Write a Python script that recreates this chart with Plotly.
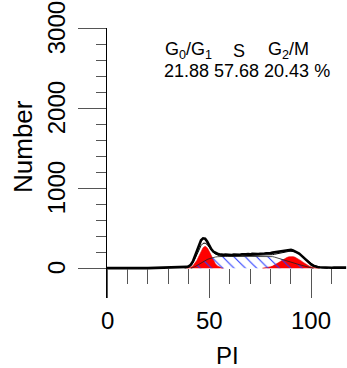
import plotly.graph_objects as go

# ---- data ----
pi_hist = list(range(0, 118))
counts = [3, 4, 3, 4, 3, 3, 4, 3, 4, 3,
          3, 4, 3, 3, 4, 3, 4, 3, 3, 4,
          3, 4, 3, 4, 3, 3, 4, 3, 4, 4,
          5, 5, 8, 10, 10, 12, 12, 14, 15, 18,
          25, 45, 85, 150, 225, 295, 350, 375, 370, 335,
          285, 240, 210, 192, 182, 176, 170, 168, 172, 168,
          170, 167, 171, 169, 174, 170, 176, 172, 175, 178,
          174, 180, 177, 182, 179, 183, 180, 185, 188, 186,
          192, 196, 200, 205, 208, 212, 216, 220, 226, 230,
          232, 224, 212, 200, 185, 162, 140, 112, 85, 64,
          45, 32, 22, 17, 14, 12, 10, 12, 9, 11,
          8, 10, 9, 12, 8, 10, 9, 9]

pi_fit = list(range(38, 109))
fit = [3, 6, 14, 32, 65, 115, 175, 235, 285, 312,
       315, 298, 265, 228, 198, 178, 165, 158, 154, 152,
       152, 152, 153, 153, 153, 154, 154, 154, 155, 155,
       155, 156, 156, 156, 157, 157, 158, 158, 159, 159,
       160, 162, 166, 171, 176, 182, 188, 194, 200, 205,
       209, 212, 213, 211, 205, 195, 180, 162, 142, 120,
       98, 77, 58, 42, 29, 19, 12, 7, 4, 2,
       0]

pi_g1 = list(range(39, 58))
g1 = [2, 6, 14, 30, 58, 100, 155, 212, 258, 275,
      258, 212, 155, 100, 58, 30, 14, 6, 2]

pi_s = list(range(41, 102))
s_phase = [0, 8, 20, 35, 52, 68, 84, 98, 110, 120,
           129, 136, 141, 145, 148, 150, 150, 150, 150, 150,
           150, 150, 150, 150, 150, 150, 150, 150, 150, 150,
           150, 150, 150, 150, 150, 150, 150, 150, 150, 150,
           146, 140, 133, 125, 117, 109, 101, 93, 86, 78,
           70, 62, 54, 46, 38, 30, 23, 16, 10, 5,
           0]

pi_g2 = list(range(76, 105))
g2 = [2, 4, 7, 12, 19, 28, 40, 55, 72, 89,
      106, 122, 135, 144, 148, 146, 139, 127, 111, 93,
      74, 56, 40, 27, 17, 10, 5, 2, 0]

phase_names = ["G<sub>0</sub>/G<sub>1</sub>", "S", "G<sub>2</sub>/M"]
phase_pct = ["21.88", "57.68", "20.43"]

y_major = [0, 1000, 2000, 3000]
y_minor = [v for v in range(200, 3000, 200) if v % 1000 != 0]
x_major = [0, 50, 100]
x_minor = [10, 20, 30, 40, 60, 70, 80, 90, 110]

# ---- layout geometry ----
W, H = 347, 368
L, R, T, B = 107, 0, 28, 70
PW, PH = W - L - R, H - T - B


def px_x(px):
    return (px - L) / PW


def px_y(py):
    return (H - B - py) / PH


FONT = "Liberation Sans, Arial, sans-serif"

fig = go.Figure()
fig.add_trace(go.Scatter(x=pi_g1, y=g1, mode="lines", fill="tozeroy",
                         fillcolor="#ff0000", line=dict(color="#e00000", width=0.6),
                         showlegend=False, hoverinfo="skip"))
fig.add_trace(go.Scatter(x=pi_g2, y=g2, mode="lines", fill="tozeroy",
                         fillcolor="#ff0000", line=dict(color="#e00000", width=0.6),
                         showlegend=False, hoverinfo="skip"))
fig.add_trace(go.Scatter(x=pi_s, y=s_phase, mode="lines", fill="tozeroy",
                         fillcolor="rgba(0,0,0,0)",
                         fillpattern=dict(shape="\\", fgcolor="#2a3cff", fgopacity=1,
                                          bgcolor="rgba(0,0,0,0)", size=8,
                                          solidity=0.14, fillmode="overlay"),
                         line=dict(color="#202020", width=0.8),
                         showlegend=False, hoverinfo="skip"))
fig.add_trace(go.Scatter(x=pi_fit, y=fit, mode="lines",
                         line=dict(color="black", width=1),
                         showlegend=False, hoverinfo="skip"))
fig.add_trace(go.Scatter(x=pi_hist, y=counts, mode="lines",
                         line=dict(color="black", width=2.6),
                         showlegend=False, hoverinfo="skip"))

fig.update_layout(
    width=W, height=H,
    margin=dict(l=L, r=R, t=T, b=B, pad=0),
    paper_bgcolor="white", plot_bgcolor="white",
    font=dict(family=FONT, color="black"),
    xaxis=dict(range=[0, 117.4], anchor="free", position=px_y(268.3),
               showline=False, zeroline=False, showgrid=False,
               ticks="outside", ticklen=29, tickwidth=1, tickcolor="#555",
               tickmode="array", tickvals=x_major,
               showticklabels=False,
               minor=dict(tickmode="array", tickvals=x_minor, ticks="outside",
                          ticklen=15, tickwidth=1, tickcolor="#555",
                          showgrid=False)),
    yaxis=dict(range=[-371, 3004],
               showline=True, linecolor="black", linewidth=1,
               zeroline=False, showgrid=False,
               ticks="outside", ticklen=28, tickwidth=1, tickcolor="#555",
               tickmode="array", tickvals=y_major,
               showticklabels=False,
               minor=dict(tickmode="array", tickvals=y_minor, ticks="outside",
                          ticklen=10, tickwidth=1, tickcolor="#555",
                          showgrid=False)),
)

annos = []
# y tick labels, rotated, placed on the y scale
for v in y_major:
    annos.append(dict(text=str(v), x=px_x(56), y=v, xref="paper", yref="y",
                      textangle=-90, showarrow=False, font=dict(size=24, family=FONT),
                      xanchor="center", yanchor="middle"))
# x tick labels, placed on the x scale
for v in x_major:
    annos.append(dict(text=str(v), x=v, y=px_y(320), xref="x", yref="paper",
                      showarrow=False, font=dict(size=24, family=FONT),
                      xanchor="center", yanchor="middle"))
annos.append(dict(text="Number", x=px_x(23), y=px_y(147), xref="paper", yref="paper",
                  textangle=-90, showarrow=False, font=dict(size=26, family=FONT),
                  xanchor="center", yanchor="middle"))
annos.append(dict(text="PI", x=px_x(227), y=px_y(355), xref="paper", yref="paper",
                  showarrow=False, font=dict(size=24, family=FONT),
                  xanchor="center", yanchor="middle"))
# phase headers and percentages
head_x = [163, 239, 266]
head_anchor = ["left", "center", "left"]
for name, hx, anc in zip(phase_names, head_x, head_anchor):
    annos.append(dict(text=name, x=px_x(hx), y=px_y(51), xref="paper", yref="paper",
                      showarrow=False, font=dict(size=18, family=FONT),
                      xanchor=anc, yanchor="middle"))
annos.append(dict(text=" ".join(phase_pct) + " %", x=px_x(162), y=px_y(71),
                  xref="paper", yref="paper", showarrow=False,
                  font=dict(size=18, family=FONT), xanchor="left", yanchor="middle"))
fig.update_layout(annotations=annos)

fig.write_html("out.html")
